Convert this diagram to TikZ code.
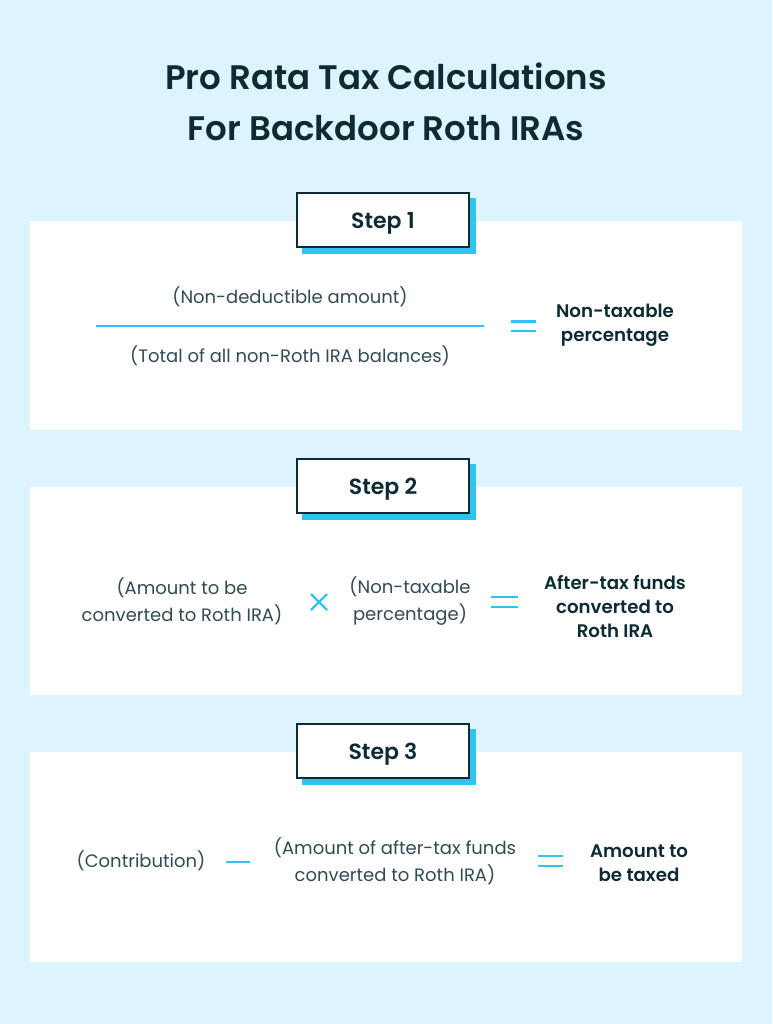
\documentclass[tikz,border=0pt]{standalone}
\usepackage{fontspec}
\setmainfont{Poppins}
\newfontfamily\semib{Poppins SemiBold}
\definecolor{bg}{HTML}{DDF3FE}
\definecolor{cy}{HTML}{2EC4EF}
\definecolor{ink}{HTML}{0D2B33}
\begin{document}
\begin{tikzpicture}[x=1pt,y=-1pt,
  panel/.style={fill=white,draw=none},
  stepbox/.style={draw=ink,line width=2pt,fill=white,minimum width=172pt,minimum height=54pt,inner sep=0pt},
  steptext/.style={font=\semib\fontsize{22}{24}\selectfont,text=ink,inner sep=0pt},
  body/.style={font=\fontsize{18}{27}\selectfont,text=ink!85,align=center,inner sep=0pt},
  res/.style={font=\semib\fontsize{18.2}{24}\selectfont,text=ink,align=center,inner sep=0pt},
  op/.style={draw=cy,line width=2.2pt}]
\fill[bg] (0,0) rectangle (772,1024);
\useasboundingbox (0,0) rectangle (772,1024);
\node[font=\semib\fontsize{34}{51}\selectfont,text=ink,align=center] (title) at (386,102) {Pro Rata Tax Calculations\\For Backdoor Roth IRAs};
% panels
\fill[panel] (30,221) rectangle (742,430);
\fill[panel] (30,487) rectangle (742,695);
\fill[panel] (30,752) rectangle (742,962);
% step boxes
\foreach \y/\n in {220/1,486/2,751/3}{
  \fill[cy] (302,\y-22) rectangle (476,\y+34);
  \node[stepbox] (s\n) at (383,\y) {};
  \node[steptext] (t\n) at (383,\y+3) {Step \n};
}
% step 1
\node[body] (num1) at (290,297) {(Non-deductible amount)};
\node[body] (den1) at (290,356) {(Total of all non-Roth IRA balances)};
\coordinate (fl) at (96,326);
\coordinate (fr) at (484,326);
\draw[cy,line width=1.6pt] (fl) -- (fr);
\draw[op] (511,321.5) -- (536,321.5) (511,331) -- (536,331);
\node[res] (r1) at (615,325) {Non-taxable\\percentage};
% step 2
\node[body] (a2) at (182,601.5) {(Amount to be\\converted to Roth IRA)};
\draw[op] (311,594) -- (327,610) (311,610) -- (327,594);
\node[body] (b2) at (410,601.5) {(Non-taxable\\percentage)};
\draw[op] (491,597) -- (518,597) (491,607) -- (518,607);
\node[res] (r2) at (615,606) {After-tax funds\\converted to\\Roth IRA};
% step 3
\node[body] (a3) at (141,861) {(Contribution)};
\draw[op] (226,862) -- (250,862);
\node[body] (b3) at (395,861.5) {(Amount of after-tax funds\\converted to Roth IRA)};
\draw[op] (538,856) -- (563,856) (538,866) -- (563,866);
\node[res] (r3) at (639,863) {Amount to\\be taxed};
\end{tikzpicture}
\end{document}
